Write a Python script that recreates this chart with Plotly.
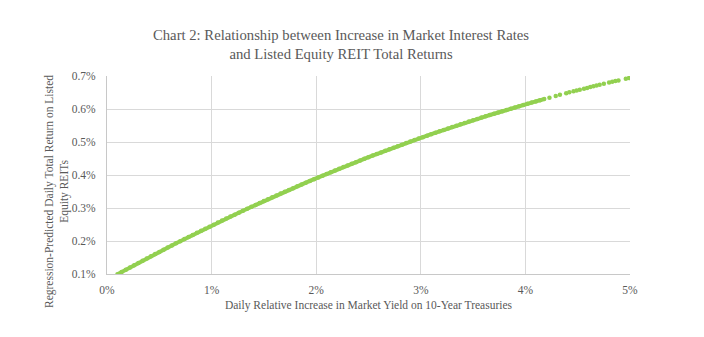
import plotly.graph_objects as go

# Daily relative increase in 10-yr Treasury yield (%) — densely observed range
yield_increase_dense = [
    0.10, 0.14, 0.18, 0.22, 0.26, 0.30, 0.34, 0.38, 0.42, 0.46,
    0.50, 0.54, 0.58, 0.62, 0.66, 0.70, 0.74, 0.78, 0.82, 0.86,
    0.90, 0.94, 0.98, 1.02, 1.06, 1.10, 1.14, 1.18, 1.22, 1.26,
    1.30, 1.34, 1.38, 1.42, 1.46, 1.50, 1.54, 1.58, 1.62, 1.66,
    1.70, 1.74, 1.78, 1.82, 1.86, 1.90, 1.94, 1.98, 2.02, 2.06,
    2.10, 2.14, 2.18, 2.22, 2.26, 2.30, 2.34, 2.38, 2.42, 2.46,
    2.50, 2.54, 2.58, 2.62, 2.66, 2.70, 2.74, 2.78, 2.82, 2.86,
    2.90, 2.94, 2.98, 3.02, 3.06, 3.10, 3.14, 3.18, 3.22, 3.26,
    3.30, 3.34, 3.38, 3.42, 3.46, 3.50, 3.54, 3.58, 3.62, 3.66,
    3.70, 3.74, 3.78, 3.82, 3.86, 3.90, 3.94, 3.98, 4.02, 4.06,
    4.10, 4.14, 4.18,
]
# Regression-predicted daily total return on listed equity REITs (%)
predicted_return_dense = [
    0.0994, 0.1063, 0.1132, 0.1200, 0.1268, 0.1336, 0.1403, 0.1470, 0.1536, 0.1603,
    0.1669, 0.1734, 0.1800, 0.1865, 0.1929, 0.1994, 0.2058, 0.2121, 0.2184, 0.2247,
    0.2310, 0.2372, 0.2434, 0.2496, 0.2557, 0.2618, 0.2679, 0.2739, 0.2799, 0.2858,
    0.2918, 0.2976, 0.3035, 0.3093, 0.3151, 0.3209, 0.3266, 0.3323, 0.3379, 0.3436,
    0.3492, 0.3547, 0.3602, 0.3657, 0.3712, 0.3766, 0.3820, 0.3873, 0.3927, 0.3979,
    0.4032, 0.4084, 0.4136, 0.4188, 0.4239, 0.4290, 0.4340, 0.4390, 0.4440, 0.4490,
    0.4539, 0.4588, 0.4636, 0.4684, 0.4732, 0.4780, 0.4827, 0.4874, 0.4920, 0.4966,
    0.5012, 0.5057, 0.5103, 0.5147, 0.5192, 0.5236, 0.5280, 0.5323, 0.5366, 0.5409,
    0.5452, 0.5494, 0.5535, 0.5577, 0.5618, 0.5659, 0.5699, 0.5739, 0.5779, 0.5818,
    0.5858, 0.5896, 0.5935, 0.5973, 0.6011, 0.6048, 0.6085, 0.6122, 0.6158, 0.6194,
    0.6230, 0.6265, 0.6300,
]

# Sparsely observed upper range
yield_increase_sparse = [
    4.23, 4.29, 4.33, 4.39, 4.42, 4.46, 4.49, 4.52, 4.56, 4.59,
    4.62, 4.65, 4.68, 4.71, 4.75, 4.80, 4.83, 4.86, 4.89, 4.96, 4.99,
]
predicted_return_sparse = [
    0.6344, 0.6395, 0.6429, 0.6479, 0.6504, 0.6536, 0.6561, 0.6585, 0.6617, 0.6640,
    0.6664, 0.6687, 0.6710, 0.6733, 0.6763, 0.6801, 0.6823, 0.6845, 0.6867, 0.6917, 0.6938,
]

x_tick_vals = [0, 1, 2, 3, 4, 5]
x_tick_text = ["0%", "1%", "2%", "3%", "4%", "5%"]
y_tick_vals = [0.1, 0.2, 0.3, 0.4, 0.5, 0.6, 0.7]
y_tick_text = ["0.1%", "0.2%", "0.3%", "0.4%", "0.5%", "0.6%", "0.7%"]

FONT = "Liberation Serif, DejaVu Serif, serif"
GREY = "#595959"
GRID = "#d9d9d9"
GREEN = "#92D050"

fig = go.Figure()
fig.add_trace(go.Scatter(
    x=yield_increase_dense, y=predicted_return_dense, mode="lines+markers",
    line=dict(color=GREEN, width=4),
    marker=dict(color=GREEN, size=4.5, line=dict(width=0)),
    hoverinfo="skip", showlegend=False,
))
fig.add_trace(go.Scatter(
    x=yield_increase_sparse, y=predicted_return_sparse, mode="markers",
    marker=dict(color=GREEN, size=4.5, line=dict(width=0)),
    hoverinfo="skip", showlegend=False,
))

W, H = 704, 337
L, R, T, B = 107, 74, 76, 63

fig.update_layout(
    width=W, height=H,
    margin=dict(l=L, r=R, t=T, b=B, pad=0),
    paper_bgcolor="white", plot_bgcolor="white",
    font=dict(family=FONT, color=GREY, size=11),
    title=dict(
        text="Chart 2: Relationship between Increase in Market Interest Rates<br>and Listed Equity REIT Total Returns",
        x=341 / W, xanchor="center", xref="container",
        y=1 - 40 / H, yanchor="middle", yref="container",
        font=dict(family=FONT, size=14.7, color=GREY),
    ),
    xaxis=dict(
        range=[0, 5], tickvals=x_tick_vals, ticktext=x_tick_text,
        showgrid=True, gridcolor=GRID, gridwidth=1,
        showline=True, linecolor="#c8c8c8", linewidth=1,
        zeroline=False, ticks="outside", ticklen=5, tickcolor="rgba(0,0,0,0)",
        tickfont=dict(size=11.5, color=GREY),
        title=dict(text="Daily Relative Increase in Market Yield on 10-Year Treasuries",
                   font=dict(size=11.5, color=GREY), standoff=6),
    ),
    yaxis=dict(
        range=[0.1, 0.7], tickvals=y_tick_vals, ticktext=y_tick_text,
        showgrid=True, gridcolor=GRID, gridwidth=1,
        showline=True, linecolor="#c8c8c8", linewidth=1,
        zeroline=False, ticks="outside", ticklen=8, tickcolor="rgba(0,0,0,0)",
        tickfont=dict(size=11.5, color=GREY),
    ),
    annotations=[dict(
        text="Regression-Predicted Daily Total Return on Listed<br>Equity REITs",
        textangle=-90, xref="paper", yref="paper",
        x=(57 - L) / (W - L - R), y=(H - B - 192) / (H - T - B),
        xanchor="center", yanchor="middle", showarrow=False,
        font=dict(family=FONT, size=11.5, color=GREY),
    )],
)

fig.write_html("out.html")
